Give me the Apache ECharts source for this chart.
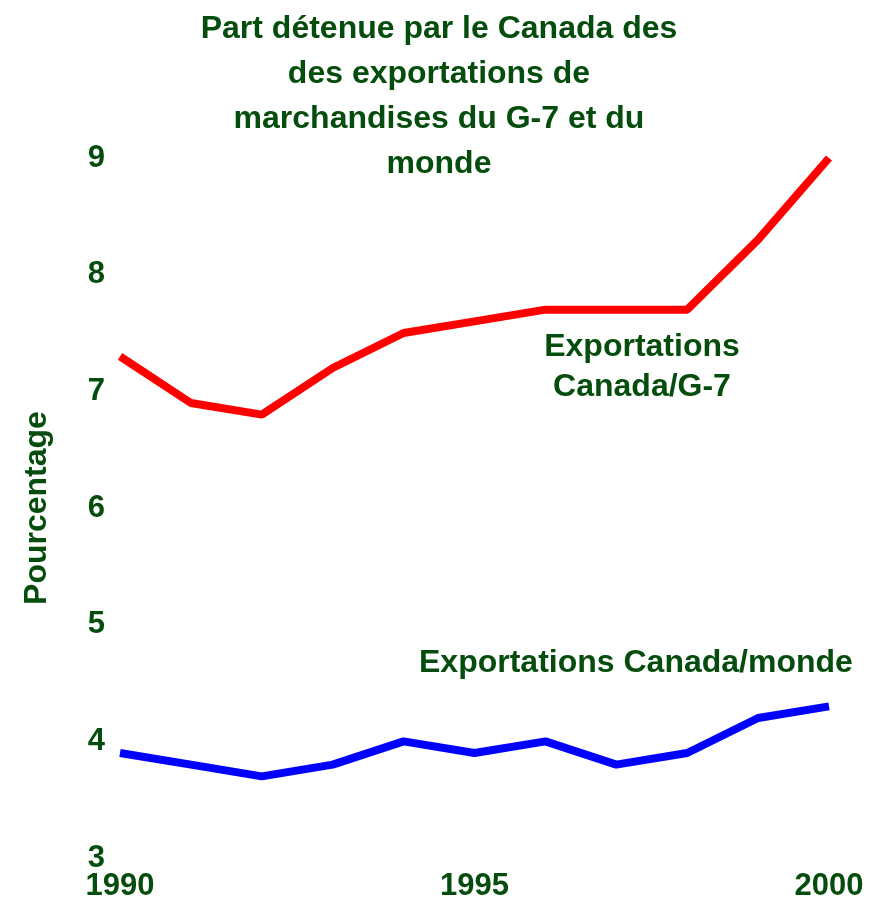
<!DOCTYPE html>
<html>
<head>
<meta charset="utf-8">
<script src="https://cdn.jsdelivr.net/npm/echarts@6/dist/echarts.min.js"></script>
<style>
  html, body { margin: 0; padding: 0; background: #fff; }
  #main { width: 878px; height: 904px; }
</style>
</head>
<body>
<div id="main"></div>
<script>
// données
var years = ['1990', '1991', '1992', '1993', '1994', '1995', '1996', '1997', '1998', '1999', '2000'];
var canadaG7 = [7.3, 6.9, 6.8, 7.2, 7.5, 7.6, 7.7, 7.7, 7.7, 8.3, 9.0];
var canadaMonde = [3.9, 3.8, 3.7, 3.8, 4.0, 3.9, 4.0, 3.8, 3.9, 4.2, 4.3];

var vert = '#054d0c';
var police = 'Liberation Sans, Arial, sans-serif';

var chart = echarts.init(document.getElementById('main'));

var option = {
    backgroundColor: '#fff',
    animation: false,
    title: {
        text: 'Part détenue par le Canada des\ndes exportations de\nmarchandises du G-7 et du\nmonde',
        left: 'center',
        top: 2,
        textStyle: {
            color: vert,
            fontFamily: police,
            fontWeight: 'bold',
            fontSize: 32,
            lineHeight: 45
        }
    },
    grid: {
        left: 120,
        right: 49,
        top: 158,
        bottom: 46
    },
    xAxis: {
        type: 'category',
        data: years,
        boundaryGap: false,
        axisLine: { show: false },
        axisTick: { show: false },
        axisLabel: {
            interval: 4,
            margin: 13,
            color: vert,
            fontFamily: police,
            fontWeight: 'bold',
            fontSize: 31
        }
    },
    yAxis: {
        type: 'value',
        min: 3,
        max: 9,
        interval: 1,
        name: 'Pourcentage',
        nameLocation: 'middle',
        nameGap: 67,
        nameTextStyle: {
            color: vert,
            fontFamily: police,
            fontWeight: 'bold',
            fontSize: 32
        },
        axisLine: { show: false },
        axisTick: { show: false },
        splitLine: { show: false },
        axisLabel: {
            margin: 15,
            color: vert,
            fontFamily: police,
            fontWeight: 'bold',
            fontSize: 31
        }
    },
    graphic: [
        {
            type: 'text',
            x: 642,
            y: 327,
            style: {
                text: 'Exportations\nCanada/G-7',
                align: 'center',
                fill: vert,
                font: 'bold 32px ' + police,
                lineHeight: 40
            }
        },
        {
            type: 'text',
            x: 419,
            y: 647,
            style: {
                text: 'Exportations Canada/monde',
                fill: vert,
                font: 'bold 32px ' + police
            }
        }
    ],
    series: [
        {
            name: 'Exportations Canada/G-7',
            type: 'line',
            data: canadaG7,
            symbol: 'none',
            lineStyle: { color: '#ff0000', width: 8 }
        },
        {
            name: 'Exportations Canada/monde',
            type: 'line',
            data: canadaMonde,
            symbol: 'none',
            lineStyle: { color: '#0000ff', width: 8 }
        }
    ]
};

chart.setOption(option);
</script>
</body>
</html>
